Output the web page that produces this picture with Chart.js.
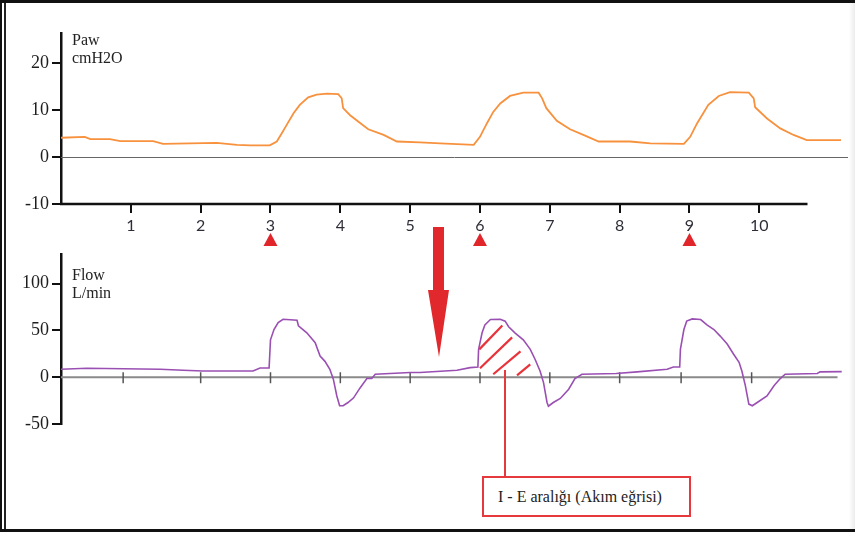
<!DOCTYPE html>
<html lang="tr">
<head>
    <meta charset="UTF-8">
    <title>Paw / Flow</title>
    <script src="https://cdn.jsdelivr.net/npm/chart.js"></script>
    <style>
        * {
            margin: 0;
            padding: 0;
            box-sizing: border-box;
        }

        body {
            width: 855px;
            height: 536px;
            background: #fff;
            overflow: hidden;
            position: relative;
            font-family: "Liberation Serif", serif;
            color: #222;
        }

        canvas {
            position: absolute;
            left: 0;
        }

        #pawChart { top: 0; }
        #flowChart { top: 240px; }

        .frame {
            position: absolute;
            left: 0;
            top: 0;
            width: 900px;
            height: 532px;
            border-left: 2px solid #111;
            border-top: 3px solid #111;
            border-bottom: 3px solid #111;
        }

        .frame-inner {
            position: absolute;
            left: 4px;
            top: 3px;
            width: 2px;
            height: 526px;
            background: #222;
        }

        .edge {
            position: absolute;
            right: 0;
            top: 3px;
            width: 6px;
            height: 526px;
            background: linear-gradient(to right, #fff, #ececec);
        }

        .unit {
            position: absolute;
            left: 72px;
            font-size: 16px;
            line-height: 18px;
            color: #222;
        }

        .note-line {
            position: absolute;
            left: 504px;
            top: 370px;
            width: 2px;
            height: 106px;
            background: #e6393d;
        }

        .note {
            position: absolute;
            left: 482px;
            top: 476px;
            width: 209px;
            height: 41px;
            border: 2px solid #e6393d;
            padding-left: 14px;
            font-size: 16px;
            line-height: 37px;
            color: #222;
            background: #fff;
        }

        svg {
            position: absolute;
            left: 0;
            top: 0;
            pointer-events: none;
        }
    </style>
</head>
<body>

    <div class="frame"></div>
    <div class="frame-inner"></div>
    <div class="edge"></div>

    <canvas id="pawChart" width="855" height="250"></canvas>
    <canvas id="flowChart" width="855" height="200"></canvas>

    <div class="unit" style="top:31px">Paw<br>cmH2O</div>
    <div class="unit" style="top:266px">Flow<br>L/min</div>

    <svg width="855" height="536">
        <polygon points="433,227 444,227 444,290 449,290 439,357 428,290 433,290" fill="#e1282c"/>
    </svg>

    <div class="note-line"></div>
    <div class="note">I - E aralığı (Akım eğrisi)</div>

    <script>
        // time axis (seconds)
        const timeTicks = [1, 2, 3, 4, 5, 6, 7, 8, 9, 10];
        const triggerTimes = [3, 6, 9];
        const flowTickMarks = [0.89, 2, 3, 4, 5, 6, 7, 8, 8.88, 9.89];

        // airway pressure, cmH2O
        const pawTicks = [-10, 0, 10, 20];
        const pawTime = [0, 0.34, 0.42, 0.70, 0.85, 1.32, 1.46, 2.23, 2.52, 2.71, 2.99,
            3.09, 3.16, 3.23, 3.33, 3.42, 3.54, 3.66, 3.81, 3.97, 4.02, 4.04, 4.14, 4.26, 4.40, 4.62, 4.81,
            5.14, 5.43, 5.91,
            6.00, 6.10, 6.19, 6.29, 6.43, 6.62, 6.84, 6.89, 6.95, 7.10, 7.29, 7.48, 7.70,
            8.15, 8.44, 8.92,
            9.01, 9.11, 9.27, 9.42, 9.58, 9.85, 9.92, 9.94, 10.11, 10.30, 10.49, 10.68, 11.17];
        const pawValue = [4.1, 4.3, 3.8, 3.8, 3.4, 3.4, 2.8, 3.0, 2.6, 2.5, 2.5,
            3.3, 5.0, 6.8, 9.3, 11.1, 12.7, 13.3, 13.5, 13.4, 12.5, 10.4, 8.9, 7.5, 5.9, 4.7, 3.3,
            3.1, 2.9, 2.6,
            4.3, 7.2, 9.6, 11.4, 13.0, 13.7, 13.7, 12.5, 10.4, 7.7, 5.9, 4.7, 3.3,
            3.3, 2.9, 2.8,
            4.3, 7.2, 11.1, 13.0, 13.8, 13.7, 12.5, 10.6, 8.2, 6.1, 4.7, 3.6, 3.6];

        // flow, L/min
        const flowTicks = [-50, 0, 50, 100];
        const flowTime = [0, 0.37, 1.42, 1.75, 2.03, 2.75, 2.85, 2.98,
            3.00, 3.05, 3.11, 3.18, 3.38, 3.40, 3.52, 3.64, 3.71, 3.78, 3.85, 3.90, 3.95, 3.99,
            4.04, 4.11, 4.19, 4.28, 4.38, 4.45, 4.50, 5.00, 5.14, 5.67, 5.86, 5.97,
            5.98, 6.03, 6.07, 6.15, 6.29, 6.36, 6.41, 6.50, 6.62, 6.72, 6.79, 6.86, 6.91, 6.96, 6.98,
            7.05, 7.15, 7.27, 7.36, 7.46, 7.95, 8.25, 8.68, 8.77, 8.86,
            8.87, 8.92, 8.96, 9.04, 9.16, 9.25, 9.35, 9.44, 9.54, 9.63, 9.71, 9.75, 9.80, 9.85, 9.90,
            9.97, 10.11, 10.21, 10.30, 10.37, 10.83, 10.87, 11.18];
        const flowValue = [8.5, 9.6, 8.5, 7.4, 6.7, 6.7, 9.9, 9.9,
            40, 51, 58.5, 62, 61, 55, 47.5, 37, 22.7, 17, 8.5, -2, -20, -30.5,
            -30.5, -27, -22, -11.7, -1.4, -1.4, 3.2, 5, 5, 7.4, 10.3, 11,
            29.8, 47.5, 56, 61.7, 62, 60, 54, 47.5, 40, 29.8, 19, 6.7, -5.7, -27, -31,
            -27, -22.7, -12.8, -1.4, 3.2, 4, 5.7, 8.5, 11, 11,
            29.8, 51, 60, 62.4, 61.7, 56, 51, 44, 35.5, 24.8, 16, 6.7, -9, -28.7, -30.5,
            -27, -20, -9.2, -1.4, 3.2, 4, 5.7, 6];

        // hatched inspiration area, in data units [t1, v1, t2, v2]
        const hatch = [[5.99, 29.8, 6.32, 55.3], [6.00, 9.6, 6.46, 42.6], [6.19, 3.2, 6.58, 27.7], [6.53, 2.1, 6.72, 13.8]];

        const xMax = 11.27;
        const axisColor = '#111';

        function yAxis(min, max, ticks) {
            return {
                min: min,
                max: max,
                afterFit: s => { s.width = 61; },
                afterBuildTicks: s => { s.ticks = ticks.map(v => ({ value: v })); },
                border: { display: true, color: axisColor, width: 2.5 },
                grid: { drawOnChartArea: false, drawTicks: true, tickLength: 9, color: axisColor, lineWidth: 2 },
                ticks: {
                    padding: 3,
                    color: '#1e1e1e',
                    font: { family: 'Liberation Serif', size: 18 }
                }
            };
        }

        const pawDecor = {
            id: 'pawDecor',
            beforeDatasetsDraw(chart) {
                const { ctx, chartArea, scales: { y } } = chart;
                const y0 = Math.round(y.getPixelForValue(0)) + 0.5;
                ctx.save();
                ctx.strokeStyle = '#666';
                ctx.lineWidth = 1;
                ctx.beginPath();
                ctx.moveTo(chartArea.left, y0);
                ctx.lineTo(chartArea.right, y0);
                ctx.stroke();
                ctx.restore();
            },
            afterDraw(chart) {
                const { ctx, chartArea, scales: { x } } = chart;
                ctx.save();
                ctx.strokeStyle = axisColor;
                ctx.lineWidth = 2.5;
                ctx.beginPath();
                ctx.moveTo(chartArea.left - 1, chartArea.bottom);
                ctx.lineTo(x.getPixelForValue(10.69), chartArea.bottom);
                ctx.stroke();
                ctx.fillStyle = '#e1262b';
                triggerTimes.forEach(t => {
                    const px = x.getPixelForValue(t);
                    ctx.beginPath();
                    ctx.moveTo(px, 233);
                    ctx.lineTo(px + 7, 246);
                    ctx.lineTo(px - 7, 246);
                    ctx.closePath();
                    ctx.fill();
                });
                ctx.restore();
            }
        };

        const flowDecor = {
            id: 'flowDecor',
            beforeDatasetsDraw(chart) {
                const { ctx, chartArea, scales: { x, y } } = chart;
                const y0 = y.getPixelForValue(0);
                ctx.save();
                ctx.strokeStyle = '#8a8a8a';
                ctx.lineWidth = 2;
                ctx.beginPath();
                ctx.moveTo(chartArea.left, y0);
                ctx.lineTo(x.getPixelForValue(11.12), y0);
                ctx.stroke();
                ctx.strokeStyle = '#555';
                ctx.lineWidth = 1.5;
                flowTickMarks.forEach(t => {
                    const px = x.getPixelForValue(t);
                    ctx.beginPath();
                    ctx.moveTo(px, y0 - 5);
                    ctx.lineTo(px, y0 + 6);
                    ctx.stroke();
                });
                ctx.restore();
            },
            afterDatasetsDraw(chart) {
                const { ctx, scales: { x, y } } = chart;
                ctx.save();
                ctx.strokeStyle = '#e8333a';
                ctx.lineWidth = 2.2;
                hatch.forEach(h => {
                    ctx.beginPath();
                    ctx.moveTo(x.getPixelForValue(h[0]), y.getPixelForValue(h[1]));
                    ctx.lineTo(x.getPixelForValue(h[2]), y.getPixelForValue(h[3]));
                    ctx.stroke();
                });
                ctx.restore();
            }
        };

        new Chart(document.getElementById('pawChart'), {
            type: 'line',
            data: {
                datasets: [{
                    data: pawTime.map((t, i) => ({ x: t, y: pawValue[i] })),
                    borderColor: '#f7913d',
                    borderWidth: 1.8,
                    pointRadius: 0,
                    tension: 0
                }]
            },
            options: {
                responsive: false,
                animation: false,
                layout: { padding: { top: 33, right: 7, left: 0, bottom: 0 } },
                plugins: { legend: { display: false }, tooltip: { enabled: false } },
                scales: {
                    x: {
                        type: 'linear',
                        min: 0,
                        max: xMax,
                        afterFit: s => { s.height = 46; },
                        afterBuildTicks: s => { s.ticks = timeTicks.map(v => ({ value: v })); },
                        border: { display: false },
                        grid: { drawOnChartArea: false, drawTicks: true, tickLength: 9, color: axisColor, lineWidth: 2 },
                        ticks: {
                            padding: 3,
                            maxRotation: 0,
                            color: '#2e2e38',
                            font: { family: 'Lato', size: 16 }
                        }
                    },
                    y: yAxis(-10, 26.4, pawTicks)
                }
            },
            plugins: [pawDecor]
        });

        new Chart(document.getElementById('flowChart'), {
            type: 'line',
            data: {
                datasets: [{
                    data: flowTime.map((t, i) => ({ x: t, y: flowValue[i] })),
                    borderColor: '#9a4fb3',
                    borderWidth: 1.6,
                    pointRadius: 0,
                    tension: 0
                }]
            },
            options: {
                responsive: false,
                animation: false,
                layout: { padding: { top: 13, right: 7, left: 0, bottom: 16 } },
                plugins: { legend: { display: false }, tooltip: { enabled: false } },
                scales: {
                    x: { type: 'linear', min: 0, max: xMax, display: false },
                    y: yAxis(-50, 132, flowTicks)
                }
            },
            plugins: [flowDecor]
        });
    </script>

</body>
</html>
